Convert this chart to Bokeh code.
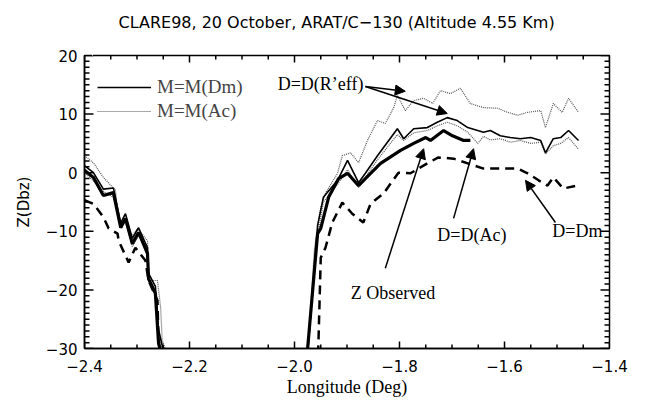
from bokeh.plotting import figure
from bokeh.models import (Range1d, Legend, LegendItem, Label, Arrow, LinearAxis,
                          NormalHead, FixedTicker)
from bokeh.embed import file_html
from bokeh.resources import INLINE

# ---------------- data (Longitude in deg, Z in dBZ) ----------------
# western segment
obs_l_lon = [-2.400, -2.383, -2.364, -2.345, -2.331, -2.322, -2.309, -2.297, -2.280, -2.278, -2.265, -2.259, -2.255, -2.245]
obs_l_z = [0.4, -0.8, -3.9, -3.4, -9.4, -7.8, -12.1, -10.2, -13.8, -18.1, -20.6, -29.0, -30.5, -31.0]

reff_l_lon = [-2.400, -2.383, -2.364, -2.341, -2.335, -2.322, -2.312, -2.299, -2.280, -2.278, -2.261, -2.255, -2.252, -2.242]
reff_l_z = [2.9, 1.7, -0.8, -3.0, -8.2, -8.5, -11.1, -9.5, -11.6, -18.4, -18.4, -23.0, -28.6, -31.0]

acdm_l_lon = [-2.400, -2.383, -2.364, -2.345, -2.331, -2.322, -2.309, -2.297, -2.280, -2.278, -2.265, -2.259, -2.250, -2.240]
acdm_l_z = [1.2, 0.0, -2.8, -2.6, -8.6, -7.0, -11.2, -9.4, -12.8, -17.2, -19.4, -26.8, -30.2, -31.0]

acac_l_lon = [-2.400, -2.383, -2.364, -2.345, -2.331, -2.322, -2.309, -2.297, -2.280, -2.278, -2.265, -2.259, -2.250, -2.240]
acac_l_z = [0.0, -1.4, -3.2, -4.2, -9.0, -8.2, -12.6, -10.8, -13.0, -17.8, -20.2, -27.8, -30.5, -31.0]

dm_l_lon = [-2.400, -2.383, -2.364, -2.354, -2.337, -2.335, -2.316, -2.303, -2.284, -2.278, -2.261, -2.259, -2.255]
dm_l_z = [-4.7, -5.3, -7.6, -9.5, -10.4, -11.6, -15.3, -12.8, -15.0, -18.4, -21.8, -29.0, -31.0]

# eastern segment
obs_r_lon = [-1.976, -1.956, -1.950, -1.935, -1.916, -1.899, -1.878, -1.865, -1.836, -1.798, -1.773, -1.750, -1.741, -1.716, -1.699, -1.678, -1.665]
obs_r_z = [-31.0, -10.4, -9.5, -4.2, -1.0, -0.1, -2.2, -1.0, 1.6, 3.8, 5.0, 6.0, 5.5, 7.2, 6.3, 5.5, 5.5]

reff_r_lon = [-1.975, -1.962, -1.950, -1.941, -1.918, -1.909, -1.893, -1.878, -1.861, -1.842, -1.827, -1.811, -1.804, -1.789, -1.773, -1.754,
              -1.737, -1.722, -1.703, -1.684, -1.665, -1.640, -1.613, -1.594, -1.575, -1.556, -1.531, -1.522, -1.507, -1.490, -1.478, -1.459]
reff_r_z = [-31.0, -13.0, -5.9, -3.5, -0.1, 2.9, 3.4, 1.7, 5.5, 8.9, 8.4, 11.1, 13.2, 10.6, 12.3, 12.7,
            11.8, 14.0, 13.5, 14.4, 11.8, 11.1, 11.0, 10.3, 9.8, 10.3, 10.6, 7.7, 11.8, 10.3, 12.7, 10.3]

acdm_r_lon = [-1.975, -1.956, -1.945, -1.918, -1.899, -1.878, -1.865, -1.842, -1.804, -1.792, -1.773, -1.747, -1.728, -1.709,
              -1.690, -1.670, -1.640, -1.627, -1.608, -1.589, -1.570, -1.550, -1.531, -1.522, -1.507, -1.493, -1.478, -1.459]
acdm_r_z = [-31.0, -9.0, -4.2, -1.3, 2.1, -1.7, -0.1, 2.9, 7.5, 5.8, 7.5, 7.7, 8.6, 9.4,
            8.9, 7.7, 6.9, 7.2, 6.3, 6.0, 5.8, 6.0, 5.5, 3.4, 5.8, 6.0, 7.2, 5.5]

acac_r_lon = [-1.975, -1.958, -1.945, -1.918, -1.899, -1.878, -1.865, -1.842, -1.804, -1.792, -1.773, -1.747, -1.728, -1.709, -1.690,
              -1.670, -1.651, -1.640, -1.627, -1.608, -1.589, -1.570, -1.550, -1.531, -1.522, -1.507, -1.493, -1.478, -1.459]
acac_r_z = [-31.0, -12.0, -5.0, -2.0, 0.5, -2.5, -0.8, 2.2, 6.5, 5.5, 6.8, 7.2, 8.0, 8.6, 8.0,
            6.9, 5.0, 6.2, 5.6, 5.8, 5.2, 5.5, 5.0, 5.2, 3.2, 4.6, 5.0, 6.0, 4.0]

dm_r_lon = [-1.955, -1.950, -1.941, -1.928, -1.909, -1.890, -1.869, -1.855, -1.830, -1.802, -1.779, -1.747,
            -1.726, -1.697, -1.670, -1.640, -1.608, -1.575, -1.556, -1.535, -1.518, -1.507, -1.488, -1.461]
dm_r_z = [-31.0, -14.5, -12.8, -8.5, -5.1, -7.0, -8.5, -5.3, -3.5, 0.0, -0.1, 1.6,
          2.6, 2.4, 1.6, 0.7, 0.7, 0.7, -0.1, -1.3, -2.2, -0.8, -2.7, -2.2]

x_ticks = [-2.4, -2.2, -2.0, -1.8, -1.6, -1.4]
x_tick_labels = ["\u22122.4", "\u22122.2", "\u22122.0", "\u22121.8", "\u22121.6", "\u22121.4"]
x_minor_ticks = [-2.35, -2.3, -2.25, -2.15, -2.1, -2.05, -1.95, -1.9, -1.85,
                 -1.75, -1.7, -1.65, -1.55, -1.5, -1.45]
y_ticks = [-30, -20, -10, 0, 10, 20]
y_tick_labels = ["\u221230", "\u221220", "\u221210", "0", "10", "20"]
y_minor_ticks = [v for v in range(-29, 20) if v % 10 != 0]

title_text = "CLARE98, 20 October, ARAT/C\u2212130 (Altitude 4.55 Km)"
x_label = "Longitude (Deg)"
y_label = "Z(Dbz)"

X0, X1, Y0, Y1 = -2.4, -1.4, -30.0, 20.0
FW, FH = 525, 293   # frame size in px

# ---------------- figure ----------------
p = figure(width=646, height=403, output_backend="svg", toolbar_location=None,
           x_range=Range1d(X0, X1), y_range=Range1d(Y0, Y1),
           min_border_left=84, min_border_right=37, min_border_top=55, min_border_bottom=55,
           title=title_text)
p.background_fill_color = "white"
p.border_fill_color = "white"
p.grid.visible = False
p.outline_line_color = "black"
p.outline_line_width = 1.5

p.title.align = "left"
p.title.offset = 34
p.title.vertical_align = "bottom"
p.title.standoff = 0
p.title.text_font = "DejaVu Sans"
p.title.text_font_size = "16px"
p.title.text_font_style = "normal"
p.title.text_color = "black"

# the two real axes (bottom and left), fetched before any other axis is added
xb = p.below[0]
yl = p.left[0]

for ax, ticks, labels in ((xb, x_ticks, x_tick_labels), (yl, y_ticks, y_tick_labels)):
    ax.ticker = FixedTicker(ticks=ticks, minor_ticks=[])
    ax.axis_line_color = "black"
    ax.axis_line_width = 1.5
    ax.major_tick_in = 0
    ax.major_tick_out = 0
    ax.minor_tick_in = 0
    ax.minor_tick_out = 0
    ax.major_label_overrides = {v: s for v, s in zip(ticks, labels)}
    ax.major_label_text_font = "DejaVu Sans"
    ax.major_label_text_font_size = "15px"
    ax.major_label_text_color = "black"

xb.major_label_standoff = 11
yl.major_label_standoff = 7
xb.axis_label = x_label
xb.axis_label_text_font = "Liberation Serif"
xb.axis_label_text_font_size = "18px"
xb.axis_label_text_font_style = "normal"
xb.axis_label_text_color = "black"
xb.axis_label_standoff = 2
yl.axis_label = y_label
yl.axis_label_text_font = "DejaVu Sans"
yl.axis_label_text_font_size = "15px"
yl.axis_label_text_font_style = "normal"
yl.axis_label_text_color = "black"
yl.axis_label_standoff = 10

# invisible spacer between the frame and the title: a top axis with one white
# outward tick (drawn on the white border, left of the title) and no labels
spacer = LinearAxis(ticker=FixedTicker(ticks=[-2.385], minor_ticks=[]), axis_line_color=None,
                    major_tick_in=0, major_tick_out=24, minor_tick_in=0, minor_tick_out=0,
                    major_tick_line_color="white", major_tick_line_width=1,
                    minor_tick_line_color=None, major_label_text_color=None,
                    major_label_standoff=0)
p.add_layout(spacer, "above")

# inward tick marks on all four sides (lengths are pixel styles converted to data units)
px_x = (X1 - X0) / FW
px_y = (Y1 - Y0) / FH
xmaj_len, xmin_len = 7 * px_y, 4 * px_y
ymaj_len, ymin_len = 9 * px_x, 5 * px_x
tick_col = "black"
for base, sgn in ((Y0, 1), (Y1, -1)):
    p.segment(x0=x_ticks, y0=[base] * len(x_ticks), x1=x_ticks,
              y1=[base + sgn * xmaj_len] * len(x_ticks), line_color=tick_col, line_width=1.5)
    p.segment(x0=x_minor_ticks, y0=[base] * len(x_minor_ticks), x1=x_minor_ticks,
              y1=[base + sgn * xmin_len] * len(x_minor_ticks), line_color=tick_col, line_width=1.5)
for base, sgn in ((X0, 1), (X1, -1)):
    p.segment(x0=[base] * len(y_ticks), y0=y_ticks, x1=[base + sgn * ymaj_len] * len(y_ticks),
              y1=y_ticks, line_color=tick_col, line_width=1.5)
    p.segment(x0=[base] * len(y_minor_ticks), y0=y_minor_ticks,
              x1=[base + sgn * ymin_len] * len(y_minor_ticks), y1=y_minor_ticks,
              line_color=tick_col, line_width=1.5)

grey = "#555555"
# grey dotted lines (M=M(Ac))
p.line(reff_l_lon, reff_l_z, line_color=grey, line_width=1.2, line_dash="1 1")
p.line(acac_l_lon, acac_l_z, line_color=grey, line_width=1.2, line_dash="1 1")
p.line(reff_r_lon, reff_r_z, line_color=grey, line_width=1.2, line_dash="1 1")
r_acac = p.line(acac_r_lon, acac_r_z, line_color=grey, line_width=1.2, line_dash="1 1")
# thin solid (M=M(Dm))
p.line(acdm_l_lon, acdm_l_z, line_color="black", line_width=1.6)
r_acdm = p.line(acdm_r_lon, acdm_r_z, line_color="black", line_width=1.6)
# observed (thick)
p.line(obs_l_lon, obs_l_z, line_color="black", line_width=3.2)
p.line(obs_r_lon, obs_r_z, line_color="black", line_width=3.2)
# D=Dm dashed
p.line(dm_l_lon, dm_l_z, line_color="black", line_width=2.5, line_dash="9 6")
p.line(dm_r_lon, dm_r_z, line_color="black", line_width=2.5, line_dash="9 6")

legend = Legend(items=[LegendItem(label="M=M(Dm)", renderers=[r_acdm]),
                       LegendItem(label="M=M(Ac)", renderers=[r_acac])],
                location=(13, 226), border_line_color=None, background_fill_alpha=0,
                label_text_font="Liberation Serif", label_text_font_size="19px",
                glyph_width=54, glyph_height=20, label_height=20, spacing=2,
                padding=0, margin=0, label_standoff=6)
p.add_layout(legend)

serif = "Liberation Serif"
ann = [("D=D(R\u2019eff)", -2.032, 15.2), ("Z Observed", -1.893, -20.6),
       ("D=D(Ac)", -1.728, -10.7), ("D=Dm", -1.509, -9.9)]
for t, x, y in ann:
    p.add_layout(Label(x=x, y=y, text=t, text_font=serif, text_font_size="18px",
                       text_baseline="middle", text_color="black"))

arrows = [(-1.865, 14.7, -1.789, 13.9), (-1.865, 14.7, -1.709, 10.1),
          (-1.827, -16.3, -1.754, 4.1), (-1.697, -7.8, -1.659, 4.1),
          (-1.503, -8.5, -1.560, -1.3)]
for xs, ys, xe, ye in arrows:
    p.add_layout(Arrow(end=NormalHead(size=10, fill_color="black", line_color="black"),
                       x_start=xs, y_start=ys, x_end=xe, y_end=ye,
                       line_color="black", line_width=1.5))

open("out.html", "w").write(file_html(p, INLINE))
